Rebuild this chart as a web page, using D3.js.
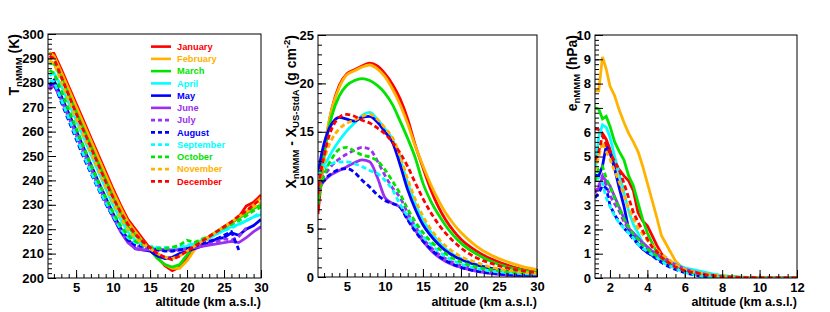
<!DOCTYPE html>
<html>
<head>
<meta charset="utf-8">
<script src="https://cdn.jsdelivr.net/npm/d3@7"></script>
<style>
body { margin: 0; background: #fff; }
svg { font-family: "Liberation Sans", Arial, sans-serif; font-weight: bold; }
</style>
</head>
<body>
<svg id="chart" width="830" height="312"></svg>
<script>
// months, colours and line style (first six solid, last six dashed)
var months = ["January","February","March","April","May","June",
              "July","August","September","October","November","December"];
var colors = ["#ff0000","#ffb300","#00e400","#00ffff","#0000ff","#9b30f0",
              "#9b30f0","#0000ff","#00ffff","#00e400","#ffb300","#ff0000"];
var dashed = [false,false,false,false,false,false,true,true,true,true,true,true];

// panel 1: temperature (K) vs altitude
var altT = [1.4,2,3,4,5,6,7,8,9,10,11,12,13,14,15,16,17,18,19,20,21,22,23,24,25,26,27,28,29,30];
var tempK = [
  [292,292,285.5,278.5,271.5,264.5,257.5,250.5,243.5,236.5,230,224,220,216,212,208.5,205,203,204.5,208,212,214.5,216.5,218.5,220.5,222.5,225,229.5,231,234],
  [292.5,291,284.3,277.3,270.3,263.3,256.3,249.3,242.3,235.3,229,223,219,215,211.5,208,205.5,204,204,207,211.5,214.5,216.5,218.5,220.5,222.5,225,227,230,233],
  [288,288,282,275,268,261,254,247,240,233,226.5,221,217.5,214.5,211.5,208,205.5,204.5,205.5,209.5,213,215,217,219,221,223,224.5,226.5,228.5,230],
  [283,284,278.7,271.7,264.7,257.7,250.7,243.7,236.7,230,224,219,215.5,213.5,212.5,212,211.5,211.5,212,213,214,215.5,216.5,218,219.5,221,222,223.5,225,226],
  [279,281,274.5,267.5,260.5,253.5,246.5,239.5,233,226.5,220.5,216,212,211.5,211,209,208,208.5,210,211,212,213,214.5,216,216.5,218.5,217.5,220,221.5,224],
  [277,279,273,266,259,252,245,238,231.5,225,219,214.5,212,211.5,211.5,211.5,211.5,211.5,211.5,212,212.5,213,213.5,214,214.5,215,214.5,216.5,219,221],
  [278,280,273,265.5,258.5,251,244,237.5,231,225,219.5,215.5,213.5,212.5,212,211.5,211.5,211,211.5,212,212.5,213.5,214,215,216,215.5,217,220.5,null,null],
  [279,280,272,264.5,257,249.5,243,236.5,230.5,225,219.5,215.5,213.5,213,212.5,211.5,211,211,211.5,212,213,214,215,216,217.5,219,211.5,null,null,null],
  [281,280.5,273,265.5,258,250.5,243.5,237,231,225.5,220,216.5,214.5,213.5,213,212.5,212.5,212.5,213,213.5,214,215,216.5,218,219.5,220.5,222,223.5,225,227],
  [285,284,276.5,269,261.5,254,246.5,239.5,233,227,221.5,217.5,215,213.5,212.5,212,212,212.5,213.5,215.5,214.5,216,217,219,220.5,222,223.5,225.5,227.5,229],
  [289,288,280.5,273,265.5,258.5,251.5,244.5,237.5,231,225,220,216.5,214,212,210,208.5,208,209,211,213,215,217,219,221,223,225,227,229,231],
  [291,290,282.5,275,267.5,260.5,253.5,246.5,239.5,233,227,222,218,215,212.5,210,208.5,207.5,209,211,213,215,217,219,221,223,225.5,227.5,230,232.5]
];

// panel 2: depth difference X_nMMM - X_US-StdA (g cm^-2)
var altX = [1.2,1.5,2,2.5,3,4,5,6,7,8,9,10,11,12,13,14,15,16,17,18,19,20,22,24,26,28,30];
var depthX = [
  [6.5,9.0,12.5,15.3,17.3,19.8,21.0,21.4,21.8,22.1,21.8,21.0,19.9,18.4,16.3,13.6,11.3,9.1,7.3,5.9,4.8,3.9,2.7,1.85,1.25,0.8,0.5],
  [8.0,10.0,13.0,15.5,17.3,19.6,20.9,21.3,21.7,21.9,21.5,20.7,19.4,17.8,15.8,13.5,11.5,9.6,8.0,6.6,5.5,4.6,3.2,2.25,1.6,1.1,0.75],
  [8.0,10.0,12.8,14.9,16.6,18.7,19.8,20.3,20.5,20.3,19.8,19.0,17.8,16.1,14.3,12.3,9.7,7.9,6.5,5.3,4.3,3.5,2.4,1.6,1.05,0.7,0.45],
  [10.8,11.0,11.6,12.2,12.9,14.1,15.1,15.9,16.7,17.0,16.3,15.3,14.2,12.2,9.7,7.6,5.9,4.7,3.7,2.9,2.3,1.9,1.3,0.9,0.6,0.4,0.3],
  [10.5,12.0,13.8,15.0,15.8,16.5,16.3,16.1,16.5,16.6,16.0,15.0,13.9,11.6,9.0,7.0,5.4,4.3,3.4,2.7,2.2,1.8,1.25,0.9,0.6,0.42,0.3],
  [8.7,9.3,9.9,10.3,10.6,11.0,11.4,11.8,12.1,11.9,10.3,8.2,7.6,7.2,6.0,4.8,3.7,2.8,2.1,1.6,1.25,1.0,0.6,0.35,0.2,0.1,0.05],
  [9.3,9.8,10.5,11.0,11.5,12.2,12.7,13.1,13.4,13.2,12.0,10.5,9.2,8.2,6.6,5.2,4.0,3.1,2.4,1.9,1.5,1.2,0.8,0.55,0.4,0.3,0.25],
  [9.0,9.5,10.0,10.4,10.7,11.1,11.2,10.8,10.0,9.3,8.5,7.9,7.6,7.2,5.9,4.7,3.7,2.9,2.2,1.7,1.3,1.0,0.6,0.4,0.25,0.2,0.15],
  [10.7,11.0,11.3,11.5,11.7,11.9,11.9,11.7,11.4,11.0,10.7,10.0,9.0,7.5,6.3,5.2,4.2,3.4,2.7,2.1,1.7,1.35,0.9,0.6,0.45,0.35,0.3],
  [7.5,9.0,10.5,11.5,12.2,13.2,13.4,13.0,12.6,12.4,12.0,11.1,9.9,8.6,7.0,5.7,4.6,3.7,3.0,2.4,1.9,1.55,1.05,0.75,0.55,0.45,0.35],
  [8.5,10.0,12.0,13.3,14.2,15.3,15.9,16.2,16.6,16.8,16.3,15.4,14.4,12.5,10.1,8.0,6.3,5.0,4.0,3.2,2.6,2.1,1.5,1.0,0.7,0.5,0.35],
  [8.5,10.5,12.5,14.2,15.3,16.5,16.8,16.6,16.2,15.9,15.4,14.8,13.9,12.8,11.4,9.7,8.1,6.7,5.5,4.5,3.7,3.0,2.0,1.4,0.95,0.65,0.45]
];

// panel 3: water vapour pressure (hPa)
var altE = [1.2,1.4,1.6,1.8,2.0,2.25,2.5,2.75,3.0,3.25,3.5,3.75,4.0,4.25,4.5,4.75,5.0,5.5,6.0,6.5,7.0,8.0,9.0,10.0,12.0];
var vapE = [
  [6.15,6.1,5.95,5.7,5.3,4.7,4.45,4.2,4.0,3.6,2.7,2.35,2.15,1.75,1.35,1.0,0.8,0.52,0.33,0.22,0.16,0.07,0.02,0.01,0],
  [7.7,7.7,9.1,8.6,7.9,7.5,6.9,6.4,5.95,5.6,5.2,4.6,3.9,3.2,2.5,1.75,1.4,0.7,0.33,0.18,0.12,0.05,0.02,0.01,0],
  [7.0,6.95,6.55,6.65,6.25,5.6,5.2,4.85,4.2,3.8,3.1,2.4,1.85,1.45,1.05,0.85,0.65,0.42,0.32,0.25,0.2,0.1,0.03,0.01,0],
  [4.3,5.8,6.3,6.2,5.8,5.0,4.3,3.5,2.75,2.2,1.85,1.45,1.25,1.1,0.97,0.85,0.75,0.58,0.42,0.33,0.25,0.08,0.02,0.01,0],
  [4.23,4.2,4.6,5.45,5.15,4.5,3.7,2.95,2.0,1.7,1.4,1.2,1.05,0.93,0.82,0.7,0.6,0.42,0.28,0.16,0.09,0.01,0,0,0],
  [3.55,3.7,4.15,4.0,3.8,3.35,2.9,2.45,2.05,1.85,1.65,1.45,1.28,1.1,0.97,0.86,0.76,0.55,0.37,0.25,0.17,0.04,0.01,0,0],
  [3.5,3.8,4.2,3.8,3.4,3.05,2.75,2.3,2.0,1.85,1.6,1.32,1.15,1.0,0.9,0.78,0.68,0.5,0.35,0.24,0.16,0.05,0.01,0,0],
  [3.3,3.5,3.8,3.7,3.0,2.6,2.3,2.05,1.85,1.6,1.4,1.2,1.05,0.92,0.78,0.64,0.52,0.35,0.22,0.12,0.05,0.01,0,0,0],
  [4.15,4.1,3.9,3.3,2.95,2.55,2.25,2.05,1.85,1.65,1.4,1.22,1.1,0.97,0.85,0.7,0.57,0.4,0.22,0.14,0.07,0.02,0,0,0],
  [4.0,4.5,4.6,4.1,3.75,3.3,2.85,2.45,2.1,1.8,1.6,1.35,1.2,1.05,0.9,0.8,0.68,0.47,0.3,0.22,0.14,0.04,0.01,0,0],
  [4.4,5.0,5.6,5.2,4.9,4.4,3.95,3.4,2.85,2.45,2.05,1.8,1.55,1.35,1.15,0.97,0.85,0.55,0.36,0.25,0.18,0.06,0.02,0.01,0],
  [4.85,5.2,5.85,5.5,5.15,4.8,4.45,3.9,3.3,2.7,2.3,1.95,1.6,1.28,1.1,0.85,0.7,0.45,0.3,0.22,0.15,0.05,0.02,0.01,0]
];

var svg = d3.select("#chart");

var panels = [
  { id: "p1", x0: 48, x1: 261, y0: 34, y1: 278, xDom: [1.2, 30], yDom: [200, 300],
    xMajor: d3.range(5, 31, 5), xMinor: d3.range(2, 31, 1), yMajor: d3.range(200, 301, 10), yMinor: d3.range(200, 301, 2),
    alt: altT, vals: tempK, curve: d3.curveLinear, titleX: 19 },
  { id: "p2", x0: 318, x1: 537, y0: 35, y1: 277, xDom: [1.2, 30], yDom: [0, 25],
    xMajor: d3.range(5, 31, 5), xMinor: d3.range(2, 31, 1), yMajor: d3.range(0, 26, 5), yMinor: d3.range(0, 26, 1),
    alt: altX, vals: depthX, curve: d3.curveMonotoneX, titleX: 296 },
  { id: "p3", x0: 595, x1: 797, y0: 35, y1: 278, xDom: [1.2, 12], yDom: [0, 10],
    xMajor: d3.range(2, 13, 2), xMinor: d3.range(1.5, 12.01, 0.5), yMajor: d3.range(0, 11, 1), yMinor: d3.range(0, 10.01, 0.2),
    alt: altE, vals: vapE, curve: d3.curveLinear, titleX: 577 }
];

panels.forEach(function(p) {
  var x = d3.scaleLinear().domain(p.xDom).range([p.x0, p.x1]);
  var y = d3.scaleLinear().domain(p.yDom).range([p.y1, p.y0]);
  var g = svg.append("g");

  g.append("clipPath").attr("id", "clip-" + p.id)
    .append("rect").attr("x", p.x0).attr("y", p.y0)
    .attr("width", p.x1 - p.x0).attr("height", p.y1 - p.y0);

  var line = d3.line()
    .defined(function(d) { return d[1] != null; })
    .x(function(d) { return x(d[0]); })
    .y(function(d) { return y(d[1]); })
    .curve(p.curve);

  var lines = g.append("g").attr("clip-path", "url(#clip-" + p.id + ")");
  p.vals.forEach(function(row, i) {
    var pts = row.map(function(v, k) { return [p.alt[k], v]; });
    lines.append("path")
      .attr("d", line(pts))
      .attr("fill", "none")
      .attr("stroke", colors[i])
      .attr("stroke-width", 2.8)
      .attr("stroke-dasharray", dashed[i] ? "5,3" : null);
  });

  // frame
  g.append("rect").attr("x", p.x0).attr("y", p.y0)
    .attr("width", p.x1 - p.x0).attr("height", p.y1 - p.y0)
    .attr("fill", "none").attr("stroke", "#000").attr("stroke-width", 1);

  // ticks point inward, like ROOT
  var xMin = g.append("g").attr("transform", "translate(0," + p.y1 + ")")
    .call(d3.axisBottom(x).tickValues(p.xMinor).tickSize(-4).tickFormat(""));
  var xMaj = g.append("g").attr("transform", "translate(0," + p.y1 + ")")
    .call(d3.axisBottom(x).tickValues(p.xMajor).tickSize(-8).tickPadding(4));
  var yMin = g.append("g").attr("transform", "translate(" + p.x0 + ",0)")
    .call(d3.axisLeft(y).tickValues(p.yMinor).tickSize(-4).tickFormat(""));
  var yMaj = g.append("g").attr("transform", "translate(" + p.x0 + ",0)")
    .call(d3.axisLeft(y).tickValues(p.yMajor).tickSize(-8).tickPadding(4));

  [xMin, xMaj, yMin, yMaj].forEach(function(a) {
    a.select(".domain").remove();
    a.selectAll("text").attr("font-family", "Liberation Sans, Arial, sans-serif")
      .attr("font-size", 13).attr("font-weight", "bold").attr("fill", "#000");
  });
  xMaj.selectAll("text").attr("dy", "0.8em");

  g.append("text").attr("x", p.x1).attr("y", 306).attr("text-anchor", "end")
    .attr("font-size", 12.5).text("altitude (km a.s.l.)");

  p.x = x; p.y = y; p.g = g;
});

// y titles with sub/superscripts
function yTitle(p, parts) {
  var t = p.g.append("text")
    .attr("transform", "translate(" + p.titleX + "," + p.y0 + ") rotate(-90)")
    .attr("text-anchor", "end").attr("font-size", 14);
  parts.forEach(function(s) {
    var ts = t.append("tspan").text(s.t);
    if (s.sub) ts.attr("font-size", 9.5).attr("dy", 3);
    else if (s.sup) ts.attr("font-size", 9.5).attr("dy", -6);
    if (s.back) ts.attr("dy", s.back);
  });
}
yTitle(panels[0], [{t: "T"}, {t: "nMMM", sub: true}, {t: " (K)", back: -3}]);
yTitle(panels[1], [{t: "X"}, {t: "nMMM", sub: true}, {t: " - X", back: -3}, {t: "US-StdA", sub: true},
                   {t: " (g cm", back: -3}, {t: "-2", sup: true}, {t: ")", back: 6}]);
yTitle(panels[2], [{t: "e"}, {t: "nMMM", sub: true}, {t: " (hPa)", back: -3}]);

// legend inside the first panel
var legY = d3.scaleBand().domain(months).range([40.5, 187.5]);
var leg = svg.append("g");
months.forEach(function(m, i) {
  var yy = legY(m) + legY.bandwidth() / 2;
  leg.append("line").attr("x1", 151).attr("x2", 171).attr("y1", yy).attr("y2", yy)
    .attr("stroke", colors[i]).attr("stroke-width", 2.6)
    .attr("stroke-dasharray", dashed[i] ? "4,3" : null);
  leg.append("text").attr("x", 177).attr("y", yy).attr("dy", "0.35em")
    .attr("font-size", 9.3).attr("fill", colors[i]).text(m);
});
</script>
</body>
</html>
